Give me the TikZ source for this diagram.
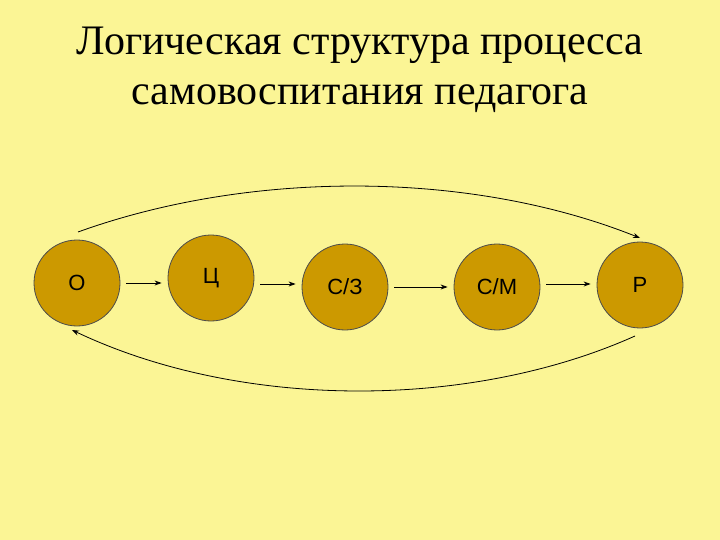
\documentclass[tikz,border=0pt]{standalone}
\usepackage{fontspec}
\setmainfont{Liberation Serif}
\newfontfamily\lab{Liberation Sans}
\usetikzlibrary{arrows.meta}
\definecolor{bg}{HTML}{FBF595}
\definecolor{gold}{HTML}{CC9900}
\begin{document}
\begin{tikzpicture}[x=1pt,y=-1pt,
  circ/.style={circle,draw=black!70,line width=0.8pt,fill=gold,minimum size=86pt,inner sep=0pt,font=\lab\fontsize{22}{24}\selectfont},
  arr/.style={-{Stealth[length=7pt,width=5pt]},line width=0.8pt}]
\fill[bg] (0,0) rectangle (720,540);
\useasboundingbox (0,0) rectangle (720,540);
\node[font=\fontsize{42}{50}\selectfont,align=center] (t) at (360,70) {Логическая структура процесса\\самовоспитания педагога};
\node[circ] (o) at (77,283) {О};
\node[circ] (c) at (211,278) {Ц};
\node[circ] (s) at (345,287) {С/З};
\node[circ] (m) at (497,287) {С/М};
\node[circ] (p) at (640,285) {Р};
\draw[arr] (o.east)++(6,0) coordinate (a1) -- ([xshift=-6pt]c.west|-a1) coordinate (b1);
\draw[arr] ([xshift=6pt]c.east) ++(0,6) coordinate (a2) -- ([xshift=-6pt]s.west|-a2);
\draw[arr] ([xshift=6pt]s.east) -- ([xshift=-6pt]m.west);
\draw[arr] ([xshift=6pt]m.east) ++(0,-3) coordinate (a4) -- ([xshift=-6pt]p.west|-a4);
\coordinate (ts) at (78,232); \coordinate (te) at (640,238);
\draw[arr] (ts) .. controls (250,170) and (470,170) .. (te);
\coordinate (bs) at (635,336); \coordinate (be) at (72,330);
\draw[arr] (bs) .. controls (470,410) and (240,410) .. (be);
\end{tikzpicture}
\end{document}
